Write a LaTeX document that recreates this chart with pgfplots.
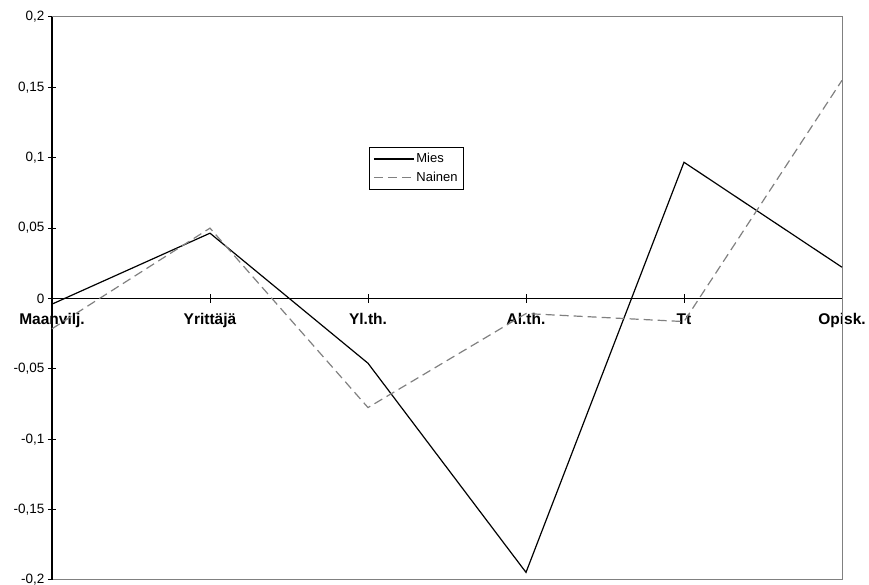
\documentclass[border=0pt]{standalone}
\usepackage{pgfplots}
\pgfplotsset{compat=1.18}
\usepackage{fontspec}
\setmainfont{Liberation Sans}

\definecolor{naingray}{RGB}{128,128,128}

\begin{document}
\begin{tikzpicture}
\useasboundingbox (0,0) rectangle (869pt,585pt);

% zero line with the category ticks and labels
\begin{axis}[
  at={(52pt,5pt)}, anchor=south west,
  scale only axis, width=790pt, height=563pt,
  xmin=0, xmax=5, ymin=-0.2, ymax=0.2,
  axis x line=middle, axis y line=none,
  axis line style={-, black, line width=1pt},
  xtick={0,1,2,3,4,5},
  xticklabels={Maanvilj.,Yrittäjä,Yl.th.,Al.th.,Tt,Opisk.},
  hide obscured x ticks=false,
  x tick label style={font=\fontsize{15.5}{17}\selectfont\bfseries, yshift=-7pt},
  tick align=center, major tick length=9pt,
  tick style={black, line width=1pt},
]
\end{axis}

\begin{axis}[
  at={(52pt,5pt)}, anchor=south west,
  scale only axis, width=790pt, height=563pt,
  xmin=0, xmax=5, ymin=-0.2, ymax=0.2,
  clip=false,
  axis line style={naingray, line width=1pt},
  xtick=\empty,
  ytick={-0.2,-0.15,-0.1,-0.05,0,0.05,0.1,0.15,0.2},
  yticklabels={{-0,2},{-0,15},{-0,1},{-0,05},0,{0,05},{0,1},{0,15},{0,2}},
  ytick pos=left,
  y tick label style={font=\fontsize{13.5}{15}\selectfont},
  tick align=center, major tick length=8pt,
  tick style={black, line width=1pt},
  legend style={
    at={(0.401,0.769)}, anchor=north west,
    font=\fontsize{13}{15}\selectfont,
    draw=black, line width=0.8pt,
    inner xsep=4pt, inner ysep=4pt, row sep=4pt,
  },
  legend cell align=left,
  legend image code/.code={\draw[#1] (0pt,0pt) -- (40pt,0pt);},
]
\draw[black, line width=1.3pt] (rel axis cs:0,0) -- (rel axis cs:0,1);

\addplot[black, line width=1.2pt, mark=none] coordinates {
  (0,-0.0040)(1,0.0464)(2,-0.0460)(3,-0.1946)(4,0.0968)(5,0.0222)
};
\addlegendentry{Mies}

\addplot[naingray, line width=1.2pt, dash pattern=on 9pt off 5pt, mark=none] coordinates {
  (0,-0.0215)(1,0.0500)(2,-0.0775)(3,-0.0107)(4,-0.0164)(5,0.1550)
};
\addlegendentry{Nainen}
\end{axis}
\end{tikzpicture}
\end{document}
